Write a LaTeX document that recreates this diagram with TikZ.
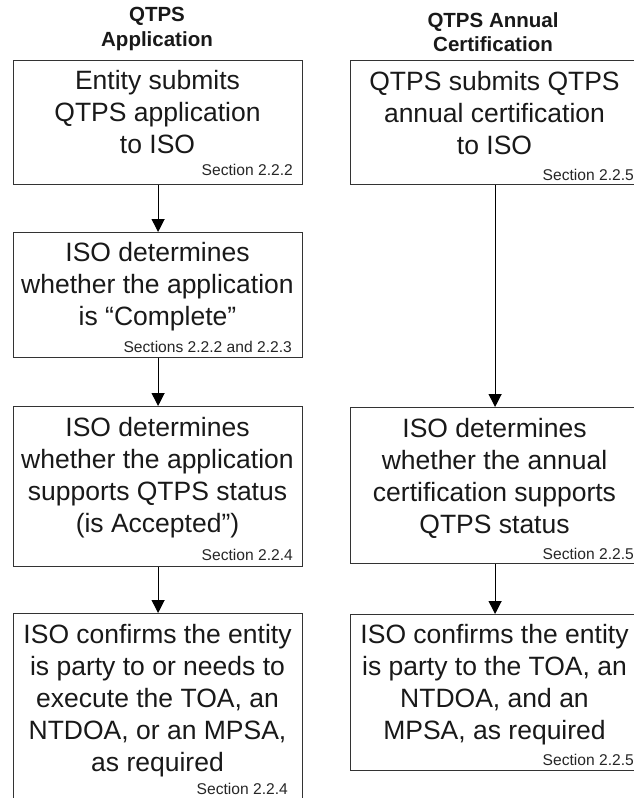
\documentclass[tikz,border=0pt]{standalone}
\usepackage{fontspec}
\setmainfont{Liberation Sans}
\usetikzlibrary{arrows.meta}

\tikzset{
  stagebox/.style={draw=black!80, line width=1.2pt, anchor=north west,
    minimum width=289pt, inner sep=0pt},
  stagetext/.style={anchor=north, align=center, inner sep=0pt, text=black!90,
    font=\fontsize{26.5pt}{32pt}\selectfont},
  sectiontext/.style={anchor=east, inner sep=0pt, text=black!85,
    font=\fontsize{15.6pt}{18pt}\selectfont},
  headtext/.style={align=center, inner sep=0pt, text=black!90,
    font=\fontsize{20.5pt}{24.5pt}\selectfont\bfseries},
  flow/.style={draw=black, line width=1.2pt,
    -{Triangle[width=13pt,length=13pt]}}
}

\begin{document}
\begin{tikzpicture}[x=1pt, y=-1pt]
  \useasboundingbox (0,0) rectangle (634,798);
  \clip (0,0) rectangle (634,798);
  \fill[white] (0,0) rectangle (634,798);

  % column headings
  \node[headtext] (hL) at (157,29) {QTPS\\Application};
  \node[headtext] (hR) at (493,32) {QTPS Annual\\Certification};

  % left column: application process
  \node[stagebox, minimum height=124pt] (L1) at (13,60) {};
  \node[stagebox, minimum height=125pt] (L2) at (13,232) {};
  \node[stagebox, minimum height=160pt] (L3) at (13,406) {};
  \node[stagebox, minimum height=200pt] (L4) at (13,613) {};

  % right column: annual certification
  \node[stagebox, minimum height=124pt] (R1) at (350,60) {};
  \node[stagebox, minimum height=156pt] (R2) at (350,407) {};
  \node[stagebox, minimum height=156pt] (R3) at (350,614) {};

  % stage descriptions
  \node[stagetext] (tL1) at (157.5,70.5) {Entity submits\\QTPS application\\to ISO};
  \node[stagetext] (tL2) at (157.5,242.5) {ISO determines\\whether the application\\is “Complete”};
  \node[stagetext] (tL3) at (157.5,417) {ISO determines\\whether the application\\supports QTPS status\\(is Accepted”)};
  \node[stagetext] (tL4) at (157.5,624) {ISO confirms the entity\\is party to or needs to\\execute the TOA, an\\NTDOA, or an MPSA,\\as required};

  \node[stagetext] (tR1) at (494.5,71) {QTPS submits QTPS\\annual certification\\to ISO};
  \node[stagetext] (tR2) at (494.5,418) {ISO determines\\whether the annual\\certification supports\\QTPS status};
  \node[stagetext] (tR3) at (494.5,624) {ISO confirms the entity\\is party to the TOA, an\\NTDOA, and an\\MPSA, as required};

  % section references
  \node[sectiontext] (sL1) at (293,170) {Section 2.2.2};
  \node[sectiontext] (sL2) at (292,347) {Sections 2.2.2 and 2.2.3};
  \node[sectiontext] (sL3) at (293,555) {Section 2.2.4};
  \node[sectiontext] (sL4) at (288,789) {Section 2.2.4};
  \node[sectiontext] (sR1) at (634,175) {Section 2.2.5};
  \node[sectiontext] (sR2) at (634,554) {Section 2.2.5};
  \node[sectiontext] (sR3) at (634,760) {Section 2.2.5};

  % flow arrows
  \draw[flow] (L1.south) -- (L2.north);
  \draw[flow] (L2.south) -- (L3.north);
  \draw[flow] (L3.south) -- (L4.north);
  \draw[flow] (R1.south) -- (R2.north);
  \draw[flow] (R2.south) -- (R3.north);
\end{tikzpicture}
\end{document}
